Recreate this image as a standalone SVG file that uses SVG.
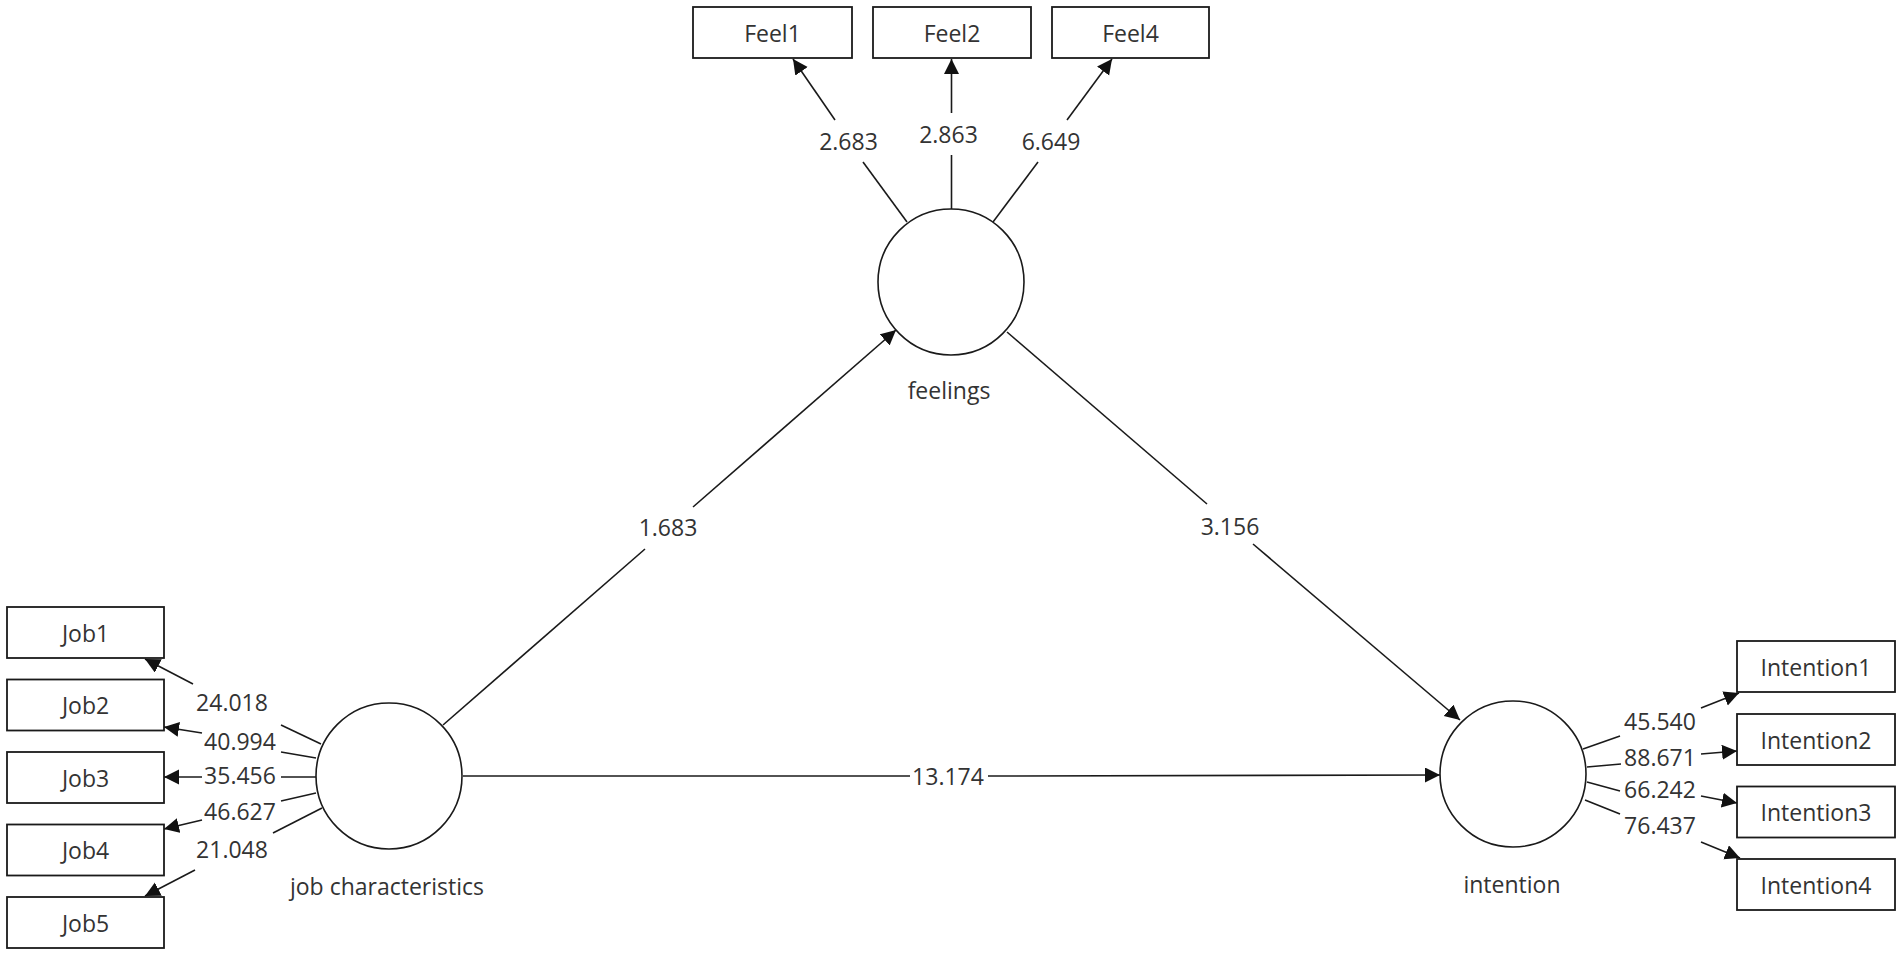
<svg xmlns="http://www.w3.org/2000/svg" width="1902" height="955" viewBox="0 0 1902 955">
<style>
.box{fill:#fff;stroke:#1a1a1a;stroke-width:1.8}
.lv{fill:#fff;stroke:#1a1a1a;stroke-width:1.6}
.t{font-family:"Open Sans","Liberation Sans",sans-serif;font-size:23px;fill:#333;text-anchor:middle}
.c{stroke:#1a1a1a;stroke-width:1.6;fill:none}
.a{marker-end:url(#ah)}
</style>
<defs>
<marker id="ah" markerUnits="userSpaceOnUse" markerWidth="16" markerHeight="16" refX="15" refY="7.5" orient="auto">
<path d="M0,0 L15,7.5 L0,15 z" fill="#111"/>
</marker>
</defs>
<rect width="1902" height="955" fill="#fff"/>
<g id="connectors">
<line class="c" x1="443" y1="725" x2="645" y2="549"/>
<line class="c a" x1="693" y1="507" x2="896" y2="330"/>
<line class="c" x1="1007" y1="332" x2="1207" y2="504"/>
<line class="c a" x1="1253" y1="544" x2="1460" y2="720"/>
<line class="c" x1="463" y1="776" x2="910" y2="776"/>
<line class="c a" x1="988" y1="776" x2="1440" y2="775"/>
<line class="c" x1="907" y1="222" x2="863" y2="162"/>
<line class="c a" x1="835" y1="120" x2="793" y2="59"/>
<line class="c" x1="951.5" y1="209" x2="951.5" y2="155"/>
<line class="c a" x1="951.5" y1="113" x2="951.5" y2="59"/>
<line class="c" x1="993" y1="222" x2="1038" y2="162"/>
<line class="c a" x1="1067" y1="120" x2="1112" y2="59"/>
<line class="c" x1="321" y1="744" x2="281" y2="725"/>
<line class="c a" x1="193" y1="684" x2="145" y2="659"/>
<line class="c" x1="316" y1="758" x2="281" y2="752"/>
<line class="c a" x1="202" y1="733" x2="164" y2="727"/>
<line class="c" x1="316" y1="777" x2="281" y2="777"/>
<line class="c a" x1="202" y1="777" x2="164" y2="777"/>
<line class="c" x1="316" y1="793" x2="281" y2="801"/>
<line class="c a" x1="202" y1="820" x2="164" y2="829"/>
<line class="c" x1="322" y1="808" x2="273" y2="833"/>
<line class="c a" x1="195" y1="870" x2="145" y2="896"/>
<line class="c" x1="1583" y1="749" x2="1620" y2="736"/>
<line class="c a" x1="1701" y1="708" x2="1739" y2="693"/>
<line class="c" x1="1587" y1="767" x2="1621" y2="764"/>
<line class="c a" x1="1701" y1="754" x2="1737" y2="751"/>
<line class="c" x1="1587" y1="782" x2="1620" y2="791"/>
<line class="c a" x1="1701" y1="796" x2="1737" y2="803"/>
<line class="c" x1="1585" y1="800" x2="1620" y2="814"/>
<line class="c a" x1="1701" y1="842" x2="1740" y2="858"/>
</g>
<g id="connector-labels">
<text class="t" x="668" y="536">1.683</text>
<text class="t" x="1230" y="535">3.156</text>
<text class="t" x="948" y="785">13.174</text>
<text class="t" x="848.5" y="150">2.683</text>
<text class="t" x="948.5" y="143">2.863</text>
<text class="t" x="1051" y="150">6.649</text>
<text class="t" x="232" y="711">24.018</text>
<text class="t" x="240" y="750">40.994</text>
<text class="t" x="240" y="784">35.456</text>
<text class="t" x="240" y="820">46.627</text>
<text class="t" x="232" y="858">21.048</text>
<text class="t" x="1660" y="730">45.540</text>
<text class="t" x="1660" y="766">88.671</text>
<text class="t" x="1660" y="798">66.242</text>
<text class="t" x="1660" y="834">76.437</text>
</g>
<g id="feelings"><circle class="lv" cx="951" cy="282" r="73"/><text class="t" x="949" y="399">feelings</text></g>
<g id="job_characteristics"><circle class="lv" cx="389" cy="776" r="73"/><text class="t" x="387" y="895">job characteristics</text></g>
<g id="intention"><circle class="lv" cx="1513" cy="774" r="73"/><text class="t" x="1512" y="893">intention</text></g>
<g id="Feel1"><rect class="box" x="693" y="7" width="159" height="51"/><text class="t" x="772.5" y="41.5">Feel1</text></g>
<g id="Feel2"><rect class="box" x="873" y="7" width="158" height="51"/><text class="t" x="952" y="41.5">Feel2</text></g>
<g id="Feel4"><rect class="box" x="1052" y="7" width="157" height="51"/><text class="t" x="1130.5" y="41.5">Feel4</text></g>
<g id="Job1"><rect class="box" x="7" y="607" width="157" height="51"/><text class="t" x="85.5" y="641.5">Job1</text></g>
<g id="Job2"><rect class="box" x="7" y="679.5" width="157" height="51"/><text class="t" x="85.5" y="714">Job2</text></g>
<g id="Job3"><rect class="box" x="7" y="752" width="157" height="51"/><text class="t" x="85.5" y="786.5">Job3</text></g>
<g id="Job4"><rect class="box" x="7" y="824.5" width="157" height="51"/><text class="t" x="85.5" y="859">Job4</text></g>
<g id="Job5"><rect class="box" x="7" y="897" width="157" height="51"/><text class="t" x="85.5" y="931.5">Job5</text></g>
<g id="Intention1"><rect class="box" x="1737" y="641" width="158" height="51"/><text class="t" x="1816" y="675.5">Intention1</text></g>
<g id="Intention2"><rect class="box" x="1737" y="714" width="158" height="51"/><text class="t" x="1816" y="748.5">Intention2</text></g>
<g id="Intention3"><rect class="box" x="1737" y="786.5" width="158" height="51"/><text class="t" x="1816" y="821">Intention3</text></g>
<g id="Intention4"><rect class="box" x="1737" y="859" width="158" height="51"/><text class="t" x="1816" y="893.5">Intention4</text></g>
</svg>
